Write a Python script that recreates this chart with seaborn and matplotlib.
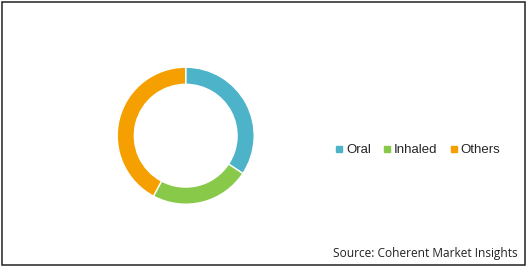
import matplotlib
matplotlib.use("Agg")
import matplotlib.pyplot as plt
from matplotlib.lines import Line2D
from matplotlib.patches import Rectangle
import seaborn as sns

categories = ["Oral", "Inhaled", "Others"]
shares = [34.3, 23.5, 42.2]
colors = ["#4DB3C9", "#88C94A", "#F5A000"]

sns.set_theme(style="white")
plt.rcParams['font.family'] = ['Liberation Sans', 'DejaVu Sans']

W, H = 530, 266
fig = plt.figure(figsize=(W / 100, H / 100), dpi=100)
fig.patch.set_facecolor("white")

cx, cy, r = 185.7, 266 - 135.7, 68.5
ax = fig.add_axes([(cx - r) / W, (cy - r) / H, 2 * r / W, 2 * r / H])
ax.pie(shares, colors=colors, startangle=90, counterclock=False, radius=1,
       wedgeprops=dict(width=0.25, edgecolor="white", linewidth=1))
ax.set_xlim(-1, 1)
ax.set_ylim(-1, 1)
ax.set_aspect("equal")
ax.axis("off")

handles = [Line2D([0], [0], marker="s", linestyle="none", markersize=5,
                  markerfacecolor=c, markeredgecolor=c) for c in colors]
fig.legend(handles, categories, loc="center left", bbox_to_anchor=(335 / W, 1 - 150 / H),
           ncol=3, frameon=False, fontsize=9.5, handlelength=0.6, handletextpad=0.25,
           columnspacing=0.9, borderpad=0, borderaxespad=0)

fig.text(518 / W, 1 - 253 / H, "Source: Coherent Market Insights", ha="right", va="center",
         fontsize=8.55, family=["Open Sans", "DejaVu Sans"], color="#222222")

fig.add_artist(Rectangle((1.5 / W, (H - 264.5) / H), 523.5 / W, 263 / H, transform=fig.transFigure,
                         fill=False, edgecolor="#222222", linewidth=1.1))

fig.savefig("out.png", dpi=100, facecolor="white")
